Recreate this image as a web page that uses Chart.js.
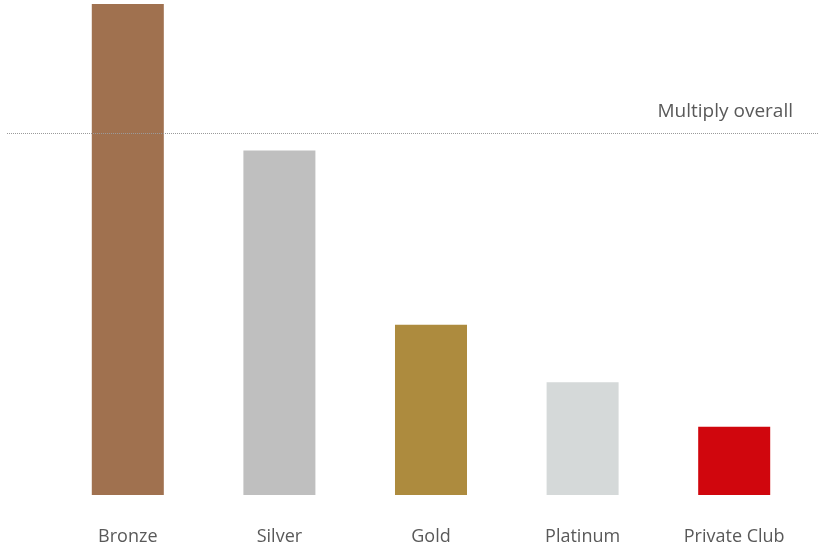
<!DOCTYPE html>
<html>
<head>
<meta charset="utf-8">
<script src="https://cdn.jsdelivr.net/npm/chart.js@4/dist/chart.umd.min.js"></script>
<style>
  html, body { margin: 0; padding: 0; background: #ffffff; }
  #wrap { width: 818px; height: 550px; position: relative; }
</style>
</head>
<body>
<div id="wrap"><canvas id="chart"></canvas></div>
<script>
// Membership tiers and their multipliers
const tiers = ['Bronze', 'Silver', 'Gold', 'Platinum', 'Private Club'];
const multipliers = [4.96, 3.48, 1.72, 1.14, 0.69];
const tierColors = ['#A0714F', '#BFBFBF', '#AD8B3E', '#D5D9D9', '#D0060D'];
const overallMultiplier = 3.66;
const overallLabel = 'Multiply overall';

const FONT = '"Open Sans", "Liberation Sans", sans-serif';
const TEXT = '#595959';

// Dotted reference line for the overall multiplier, with its caption
const overallLine = {
  id: 'overallLine',
  afterDatasetsDraw(chart) {
    const { ctx } = chart;
    const y = Math.round(chart.scales.y.getPixelForValue(overallMultiplier)) + 0.5;
    ctx.save();
    ctx.strokeStyle = '#9a9a9a';
    ctx.lineWidth = 1;
    ctx.setLineDash([1, 1]);
    ctx.beginPath();
    ctx.moveTo(7, y);
    ctx.lineTo(chart.width, y);
    ctx.stroke();
    ctx.setLineDash([]);
    ctx.fillStyle = TEXT;
    ctx.font = '19px ' + FONT;
    ctx.textAlign = 'right';
    ctx.textBaseline = 'middle';
    ctx.fillText(overallLabel, 793, y - 22);
    ctx.restore();
  }
};

new Chart(document.getElementById('chart'), {
  type: 'bar',
  data: {
    labels: tiers,
    datasets: [{
      data: multipliers,
      backgroundColor: tierColors,
      borderWidth: 0,
      barPercentage: 0.475,
      categoryPercentage: 1
    }]
  },
  options: {
    responsive: true,
    maintainAspectRatio: false,
    animation: false,
    layout: { padding: { left: 52, right: 8, top: 0, bottom: 0 } },
    plugins: {
      legend: { display: false },
      tooltip: { enabled: false }
    },
    scales: {
      x: {
        grid: { display: false, drawTicks: false },
        border: { display: false },
        ticks: {
          color: TEXT,
          padding: 31,
          font: { family: FONT, size: 18 }
        },
        afterFit(scale) { scale.height = 55; }
      },
      y: {
        display: false,
        min: 0,
        max: 5
      }
    }
  },
  plugins: [overallLine]
});
</script>
</body>
</html>
